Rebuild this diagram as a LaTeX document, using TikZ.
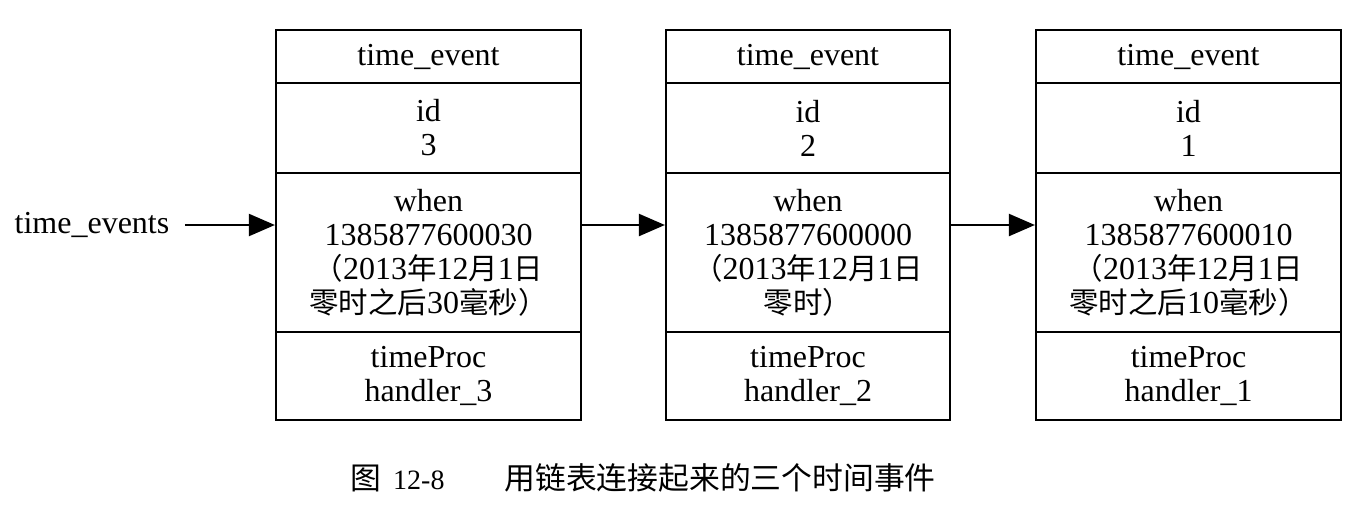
\documentclass[tikz,border=0pt]{standalone}
\usepackage{fontspec}
\setmainfont{Liberation Serif}
\newfontfamily\cjk[Scale=0.92]{Noto Sans CJK SC}
\newfontfamily\cjkcap[Scale=1.1]{Noto Sans CJK SC}
\newcommand{\zh}[1]{{\cjk #1}}
\usetikzlibrary{positioning,arrows.meta}
\tikzset{
  field/.style={draw,line width=1.1pt,align=center,inner sep=0pt,
    minimum width=#1},
  headf/.style={field=#1,minimum height=26.5pt},
  idf/.style={field=#1,minimum height=45pt},
  whenf/.style={field=#1,minimum height=79.5pt},
  procf/.style={field=#1,minimum height=44pt},
  link/.style={line width=1.1pt,-{Triangle[length=13pt,width=11pt]}}
}
\begin{document}
\begin{tikzpicture}[x=0.5pt,y=-0.5pt,node distance=-1.1pt,
  every node/.style={font=\fontsize{16}{17}\selectfont}]
\useasboundingbox (0,0) rectangle (1358,504);
% event 3
\node[headf=152.5pt] (ev3title) at (428.5,56.5) {time\_event};
\node[idf=152.5pt,below=of ev3title] (ev3id) {id\\3};
\node[whenf=152.5pt,below=of ev3id] (ev3when)
  {when\\1385877600030\\\zh{（}2013\zh{年}12\zh{月}1\zh{日}\\\zh{零时之后}30\zh{毫秒）}};
\node[procf=152.5pt,below=of ev3when] (ev3proc) {timeProc\\handler\_3};
% event 2
\node[headf=142pt] (ev2title) at (808,56.5) {time\_event};
\node[idf=142pt,below=of ev2title] (ev2id) {id\\2};
\node[whenf=142pt,below=of ev2id] (ev2when)
  {when\\1385877600000\\\zh{（}2013\zh{年}12\zh{月}1\zh{日}\\\zh{零时）}};
\node[procf=142pt,below=of ev2when] (ev2proc) {timeProc\\handler\_2};
% event 1
\node[headf=152.5pt] (ev1title) at (1188.5,56.5) {time\_event};
\node[idf=152.5pt,below=of ev1title] (ev1id) {id\\1};
\node[whenf=152.5pt,below=of ev1id] (ev1when)
  {when\\1385877600010\\\zh{（}2013\zh{年}12\zh{月}1\zh{日}\\\zh{零时之后}10\zh{毫秒）}};
\node[procf=152.5pt,below=of ev1when] (ev1proc) {timeProc\\handler\_1};
% list head
\node[outer sep=4.5pt] (head) at (92,225) {time\_events};
\draw[link] (head) -- (ev3when.west |- head);
\draw[link] (ev3when.east |- head) -- (ev2when.west |- head);
\draw[link] (ev2when.east |- head) -- (ev1when.west |- head);
% caption
\node[anchor=west,inner sep=0pt,font=\fontsize{14}{16}\selectfont] (caption) at (350,478)
  {{\cjkcap 图}\hspace{6pt}12-8\hspace{30pt}{\cjkcap 用链表连接起来的三个时间事件}};
\end{tikzpicture}
\end{document}
